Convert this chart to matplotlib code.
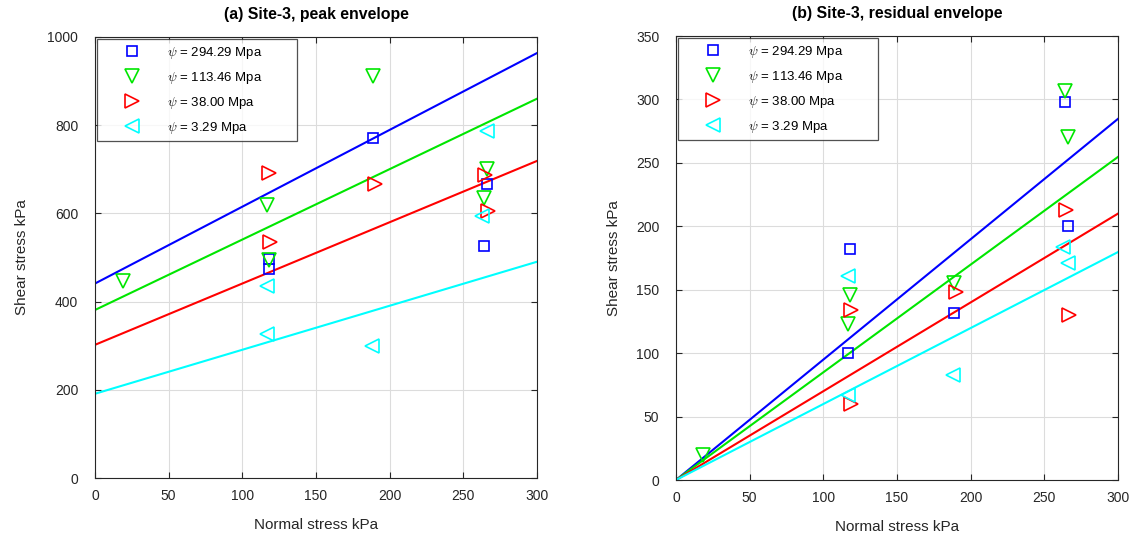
import numpy as np
import matplotlib.pyplot as plt

plt.rcParams['font.family'] = ['Liberation Sans', 'DejaVu Sans']
plt.rcParams['mathtext.fontset'] = 'cm'

labels = ['294.29', '113.46', '38.00', '3.29']
colors = ['#0000ff', '#00e600', '#ff0000', '#00ffff']
markers = ['s', 'v', '>', '<']

# (a) peak envelope: measured points per suction level
peak_x = [[118, 118, 189, 266, 264],
          [19, 117, 118, 189, 266, 264],
          [118, 119, 190, 265, 267],
          [117, 117, 188, 266, 263]]
peak_y = [[474, 496, 771, 667, 526],
          [447, 619, 495, 911, 700, 634],
          [692, 535, 667, 688, 606],
          [436, 327, 300, 787, 594]]
# fitted envelopes: intercept, slope
peak_c = [441, 381, 302, 191]
peak_m = [1.742, 1.597, 1.39, 0.998]

# (b) residual envelope
res_x = [[118, 117, 189, 264, 266],
         [18, 118, 117, 189, 264, 266],
         [119, 119, 190, 265, 267],
         [117, 117, 188, 263, 266]]
res_y = [[182, 100, 132, 298, 200],
         [20, 146, 123, 155, 307, 270],
         [134, 60, 148, 213, 130],
         [161, 67, 83, 184, 171]]
res_m = [0.949, 0.849, 0.70, 0.599]

fig = plt.figure(figsize=(11.3, 5.35), dpi=100)
ax1 = fig.add_axes([95/1130, 1 - 478/535, 442/1130, 441/535])
ax2 = fig.add_axes([676/1130, 1 - 480/535, 442/1130, 444/535])

xx = np.array([0, 300])


def draw(ax, xs, ys, cs, ms, title, ymax, ystep, ylpad):
    for i in range(4):
        ax.plot(xx, cs[i] + ms[i] * xx, color=colors[i], lw=1.5, zorder=2)
    for i in range(4):
        ms_ = 7 if markers[i] == 's' else 10
        ax.plot(xs[i], ys[i], linestyle='none', marker=markers[i], markersize=ms_,
                markerfacecolor='none', markeredgecolor=colors[i], markeredgewidth=1.2,
                label=r'$\psi$ = ' + labels[i] + ' Mpa', zorder=3)
    ax.set_xlim(0, 300)
    ax.set_ylim(0, ymax)
    ax.set_xticks(np.arange(0, 301, 50))
    ax.set_yticks(np.arange(0, ymax + 1, ystep))
    ax.grid(True, color='#dcdcdc', lw=0.8)
    ax.set_axisbelow(True)
    ax.tick_params(direction='in', top=True, right=True, labelsize=10, length=4,
                   labelcolor='#262626', color='#262626')
    ax.tick_params(axis='y', pad=12)
    ax.tick_params(axis='x', pad=8)
    for s in ax.spines.values():
        s.set_color('#262626')
    ax.set_xlabel('Normal stress kPa', fontsize=11, labelpad=11, color='#262626')
    ax.set_ylabel('Shear stress kPa', fontsize=11, labelpad=ylpad, color='#262626')
    ax.set_title(title, fontsize=11.4, fontweight='bold', pad=13)
    leg = ax.legend(loc='upper left', bbox_to_anchor=(0.005, 0.995, 0.4525, 0.0),
                    mode='expand', fontsize=9.5, frameon=True, fancybox=False,
                    edgecolor='#262626', handletextpad=0.5, borderaxespad=0.0,
                    labelspacing=0.68, handlelength=4.4, borderpad=0.42)
    leg.get_frame().set_linewidth(0.9)


draw(ax1, peak_x, peak_y, peak_c, peak_m, '(a) Site-3, peak envelope', 1000, 200, 13)
draw(ax2, res_x, res_y, [0, 0, 0, 0], res_m, '(b) Site-3, residual envelope', 350, 50, 11)

fig.savefig('out.png', dpi=100)
